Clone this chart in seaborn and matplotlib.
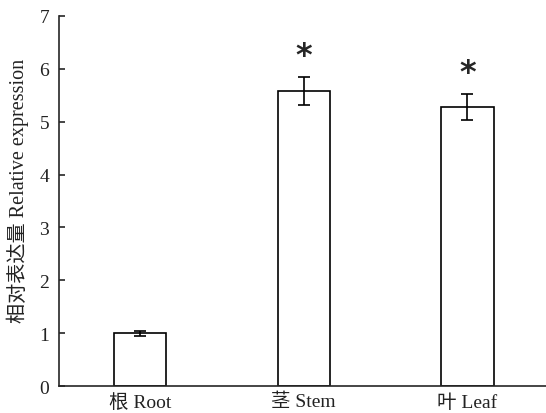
import matplotlib
matplotlib.use("Agg")
import matplotlib.pyplot as plt
import seaborn as sns
import pandas as pd

# values
tissues = ["根 Root", "茎 Stem", "叶 Leaf"]
expression = [1.0, 5.58, 5.28]
errors = [0.05, 0.27, 0.25]
marks = ["", "*", "*"]
mark_heights = [0, 6.25, 5.93]
yticks = [0, 1, 2, 3, 4, 5, 6, 7]

sns.set_style("ticks")
plt.rcParams["font.family"] = ["Liberation Serif", "Noto Sans CJK SC"]

df = pd.DataFrame({"tissue": tissues, "expr": expression})

fig = plt.figure(figsize=(5.46, 4.14), dpi=100)
ax = fig.add_axes([0.108, 0.065, 0.892, 0.894])

sns.barplot(data=df, x="tissue", y="expr", ax=ax, color="white",
            edgecolor="black", linewidth=1.2, width=0.32, errorbar=None)
ax.errorbar(range(len(tissues)), expression, yerr=errors, fmt="none",
            ecolor="black", elinewidth=1.2, capsize=4, capthick=1.2)

for i, (m, h) in enumerate(zip(marks, mark_heights)):
    if m:
        ax.text(i, h, m, ha="center", va="center", fontsize=23,
                fontweight="bold", family="DejaVu Sans")

ax.set_xlim(-0.495, 2.48)
ax.set_ylim(0, 7)
ax.set_yticks(yticks)
ax.set_xlabel("")
ax.set_ylabel("相对表达量 Relative expression", fontsize=14.5, color="#222222")
ax.yaxis.set_label_coords(-0.062, 0.53)
ax.tick_params(axis="y", direction="in", length=4, width=1.2, labelsize=14,
               pad=7, labelcolor="#222222")
ax.tick_params(axis="x", length=0, labelsize=14, pad=5, labelcolor="#222222")
for s in ["top", "right"]:
    ax.spines[s].set_visible(False)
for s in ["left", "bottom"]:
    ax.spines[s].set_linewidth(1.2)

fig.savefig("out.png", dpi=100)
